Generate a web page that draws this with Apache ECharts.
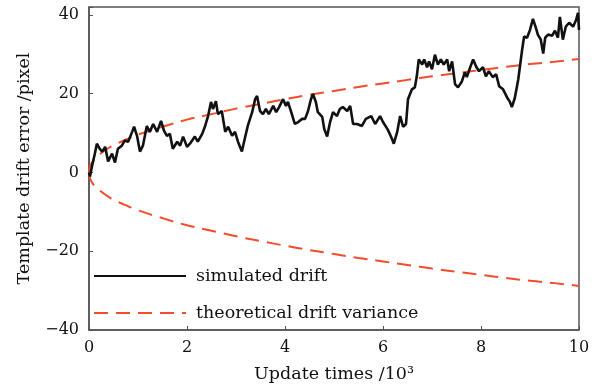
<!DOCTYPE html>
<html>
<head>
<meta charset="utf-8">
<script src="https://cdn.jsdelivr.net/npm/echarts@6/dist/echarts.min.js"></script>
<style>html,body{margin:0;padding:0;background:#fff;}#c{width:599px;height:388px;}</style>
</head>
<body>
<div id="c"></div>
<script>
// Simulated drift (x in 10^3 update times, y in pixels)
var driftX = [0,0.02,0.06,0.12,0.16,0.22,0.27,0.33,0.39,0.47,0.53,0.59,0.67,0.73,0.80,0.88,0.92,0.98,1.04,1.10,1.18,1.24,1.31,1.39,1.47,1.53,1.59,1.65,1.71,1.80,1.86,1.92,2.00,2.06,2.16,2.22,2.31,2.37,2.43,2.49,2.53,2.59,2.63,2.71,2.78,2.84,2.92,2.98,3.04,3.12,3.18,3.24,3.33,3.39,3.43,3.49,3.55,3.61,3.67,3.76,3.82,3.88,3.96,4.02,4.06,4.14,4.20,4.27,4.35,4.41,4.47,4.53,4.57,4.63,4.67,4.76,4.80,4.86,4.92,4.98,5.06,5.12,5.18,5.27,5.33,5.39,5.47,5.57,5.65,5.76,5.84,5.94,6.00,6.10,6.18,6.22,6.29,6.35,6.41,6.47,6.51,6.59,6.65,6.69,6.73,6.80,6.84,6.90,6.94,7.00,7.06,7.12,7.18,7.24,7.31,7.35,7.41,7.47,7.53,7.61,7.67,7.71,7.78,7.84,7.90,7.96,8.04,8.10,8.16,8.24,8.31,8.37,8.45,8.53,8.59,8.63,8.69,8.76,8.84,8.88,8.94,9.00,9.06,9.12,9.16,9.22,9.27,9.31,9.37,9.45,9.51,9.57,9.61,9.67,9.73,9.80,9.88,9.94,9.98,10.0];
var driftY = [0,-1.0,1.5,4.8,7.3,6.0,5.3,6.5,2.8,4.8,2.5,6.0,6.8,8.1,7.8,10.3,11.6,9.3,5.3,6.8,11.8,10.3,12.3,10.3,13.1,10.6,9.3,9.8,6.0,7.8,6.8,9.1,6.5,7.3,9.1,7.8,9.8,11.8,14.3,17.9,16.1,18.1,14.8,15.6,10.3,11.6,9.3,10.3,7.8,5.3,8.6,11.8,15.3,18.6,19.4,15.6,14.8,16.1,14.8,16.9,15.3,16.6,18.6,16.9,17.9,14.8,12.3,12.8,13.6,13.6,15.6,18.6,19.9,17.9,15.3,14.1,11.1,9.1,12.8,15.3,14.3,16.1,16.6,15.6,16.9,12.3,12.3,11.8,13.6,14.3,12.3,14.3,12.8,10.8,8.6,7.3,10.3,14.3,11.6,12.3,18.6,21.1,21.6,24.4,28.7,27.4,28.7,26.7,28.2,26.2,29.9,27.4,28.7,27.4,28.7,25.7,28.2,22.4,21.6,23.1,25.4,24.2,26.7,28.7,26.9,25.7,26.7,24.4,25.7,24.2,24.9,21.9,21.1,19.1,17.9,16.6,18.9,23.6,31.2,34.5,34.2,36.2,39.0,36.7,35.0,33.7,30.2,34.2,35.0,34.7,36.0,34.2,39.5,33.7,37.0,38.0,37.0,38.7,40.5,36.2];
// Theoretical drift variance envelope
var varX = [0,0.02,0.05,0.1,0.2,0.4,0.6,0.8,1,1.5,2,2.5,3,3.5,4,4.5,5,5.5,6,6.5,7,7.5,8,8.5,9,9.5,10];
var varUpper = [0,1.5,2.3,3.2,4.4,6.2,7.5,8.6,9.6,11.6,13.4,14.8,16.2,17.4,18.6,19.7,20.7,21.7,22.6,23.5,24.4,25.2,26.0,26.8,27.5,28.1,28.8];
var varLower = [0,-1.5,-2.3,-3.2,-4.4,-6.2,-7.5,-8.6,-9.6,-11.6,-13.4,-14.8,-16.2,-17.4,-18.6,-19.7,-20.7,-21.7,-22.6,-23.5,-24.4,-25.2,-26.0,-26.8,-27.5,-28.1,-28.8];
var xTicks = [0,2,4,6,8,10];
var yTicks = [-40,-20,0,20,40];

function pairs(xs, ys){ return xs.map(function(x,i){ return [x, ys[i]]; }); }

var FONT = 'DejaVu Serif';
var chart = echarts.init(document.getElementById('c'), null, {renderer:'canvas'});
var red = '#f24c2c';
chart.setOption({
  animation: false,
  backgroundColor: '#fff',
  textStyle: {fontFamily: FONT},
  grid: {left: 89, right: 20, top: 7, bottom: 55, show: true, borderColor: '#555', borderWidth: 1.5, containLabel: false},
  legend: {
    orient: 'vertical', left: 88, top: 262,
    itemWidth: 92, itemHeight: 14, itemGap: 19,
    itemStyle: {opacity: 0},
    textStyle: {fontFamily: FONT, fontSize: 17.5, color: '#111', padding: [0,0,0,5]},
    data: ['simulated drift', 'theoretical drift variance']
  },
  xAxis: {
    type: 'value', min: 0, max: 10, interval: 2,
    name: 'Update times /10³', nameLocation: 'middle', nameGap: 35,
    nameTextStyle: {fontFamily: FONT, fontSize: 17.5, color: '#111'},
    axisLine: {show: true, onZero: false, lineStyle: {color: '#555', width: 1.5}},
    axisTick: {show: true, inside: true, length: 4, lineStyle: {color: '#555'}},
    axisLabel: {fontFamily: FONT, fontSize: 16, color: '#111', margin: 10,
      formatter: function(v){ return xTicks.indexOf(v) >= 0 ? String(v) : ''; }},
    splitLine: {show: false}
  },
  yAxis: {
    type: 'value', min: -40, max: 42, interval: 20,
    name: 'Template drift error /pixel', nameLocation: 'middle', nameGap: 56, nameRotate: 90,
    nameTextStyle: {fontFamily: FONT, fontSize: 17.5, color: '#111'},
    axisLine: {show: true, onZero: false, lineStyle: {color: '#555', width: 1.5}},
    axisTick: {show: true, inside: true, length: 4, lineStyle: {color: '#555'}},
    axisLabel: {fontFamily: FONT, fontSize: 16, color: '#111', margin: 10,
      formatter: function(v){ return yTicks.indexOf(v) >= 0 ? String(v).replace('-', '\u2212') : ''; }},
    splitLine: {show: false}
  },
  series: [
    {name: 'simulated drift', type: 'line', data: pairs(driftX, driftY), showSymbol: false, symbol: 'none',
     lineStyle: {color: '#111', width: 2.6}, itemStyle: {color: '#111'}, z: 3},
    {name: 'theoretical drift variance', type: 'line', data: pairs(varX, varUpper), showSymbol: false, symbol: 'none', smooth: true,
     lineStyle: {color: red, width: 2, type: [14, 8]}, itemStyle: {color: red}, z: 2},
    {name: 'theoretical drift variance', type: 'line', data: pairs(varX, varLower), showSymbol: false, symbol: 'none', smooth: true,
     lineStyle: {color: red, width: 2, type: [14, 8]}, itemStyle: {color: red}, z: 2}
  ]
});
</script>
</body>
</html>
